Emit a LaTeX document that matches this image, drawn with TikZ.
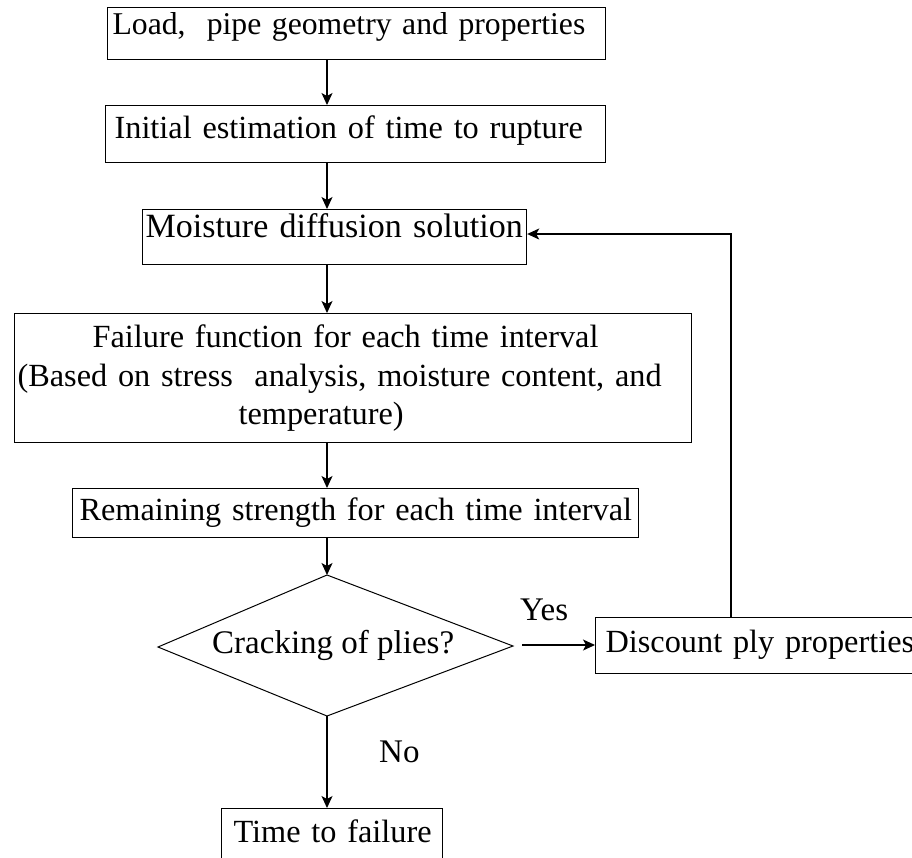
\documentclass[tikz,border=0pt]{standalone}
\usepackage{fontspec}
\setmainfont{Liberation Serif}
\usetikzlibrary{arrows.meta}
\begin{document}
\begin{tikzpicture}[x=1pt,y=-1pt,
  box/.style={draw, line width=1.2pt, rectangle, anchor=north west, inner ysep=0pt, align=left,
    font=\fontsize{32.3}{38.5}\selectfont},
  arr/.style={-{Stealth[length=12pt,width=11pt,inset=3pt]}, line width=1.1pt},
  lbl/.style={anchor=base west, inner sep=0pt, font=\fontsize{33}{38.5}\selectfont}]
\useasboundingbox (0,0) rectangle (912,857);
% boxes
\node[box, font=\fontsize{31.7}{38.5}\selectfont, inner xsep=5pt, text width=488pt, text height=27pt, text depth=25pt] (B1) at (107,7)
  {\mbox{Load,\ \ pipe geometry and properties}};
\node[box, inner xsep=9pt, text width=482pt, text height=33pt, text depth=24pt] (B2) at (105,105)
  {\mbox{Initial estimation of time to rupture}};
\node[box, font=\fontsize{34}{38.5}\selectfont, inner xsep=3pt, text width=378pt, text height=28pt, text depth=27pt] (B3) at (142,209)
  {\mbox{Moisture diffusion solution}};
\node[box, inner xsep=3pt, text width=671pt, minimum height=129pt] (B4) at (14,313)
  {\hspace*{75pt}Failure function for each time interval\\
   \makebox[663pt][s]{(Based on stress\ \ analysis,\ moisture\ content,\ and}\\
   \hspace*{221pt}temperature)};
\node[box, inner xsep=7pt, text width=552pt, text height=32pt, text depth=17pt] (B5) at (72,488)
  {\mbox{Remaining strength for each time interval}};
\node[box, inner xsep=10pt, text width=320pt, text height=35pt, text depth=21pt] (B6) at (595,617)
  {\mbox{Discount ply properties}};
\node[box, inner xsep=12pt, text width=197pt, text height=34pt, text depth=30pt] (B7) at (221,808)
  {\mbox{Time to failure}};
% decision diamond
\coordinate (dt) at (327,575);
\coordinate (dl) at (158,647);
\coordinate (dr) at (513,646);
\coordinate (db) at (327,716);
\draw[line width=1pt] (dt) -- (dr) -- (db) -- (dl) -- cycle;
\node[lbl] (crack) at (212,653) {Cracking of plies?};
% labels
\node[lbl] (yes) at (520,620) {Yes};
\node[lbl] (no) at (379,762) {No};
% connectors
\draw[arr] (B1.south -| dt) -- (B2.north -| dt);
\draw[arr] (B2.south -| dt) -- (B3.north -| dt);
\draw[arr] (B3.south -| dt) -- (B4.north -| dt);
\draw[arr] (B4.south -| dt) -- (B5.north -| dt);
\draw[arr] (B5.south -| dt) -- (dt);
\draw[arr] (db) -- (B7.north -| db);
\coordinate (ys) at (522,645);
\draw[arr] (ys) -- (ys -| B6.west);
\coordinate (fb) at (731,234);
\draw[arr] (B6.north -| fb) -- (fb) -- (fb -| B3.east);
\end{tikzpicture}
\end{document}
